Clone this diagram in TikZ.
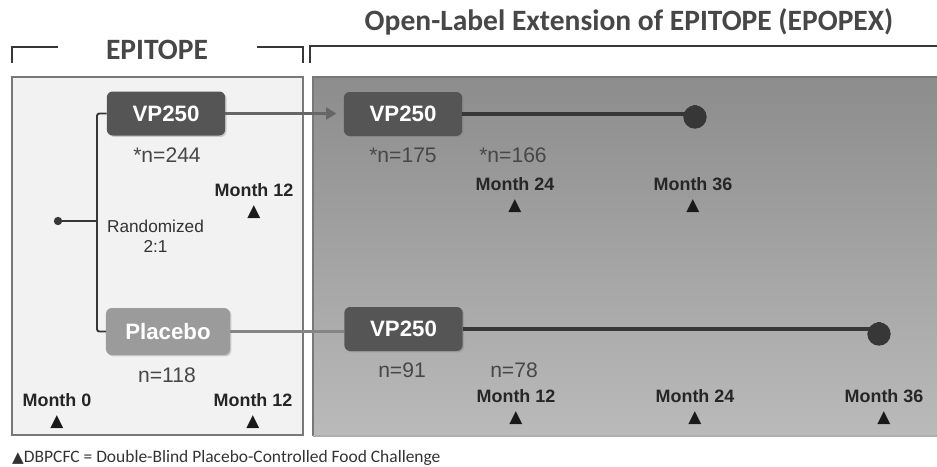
\documentclass[tikz,border=0pt]{standalone}
\usepackage{fontspec}
\setmainfont{Liberation Sans}
\newfontfamily\ttlfont{Carlito}
\newfontfamily\symfont{DejaVu Sans}
\usetikzlibrary{arrows.meta, positioning, shadows}
\definecolor{armdark}{RGB}{85, 85, 85}
\definecolor{armlight}{RGB}{155, 155, 155}
\definecolor{panelgray}{RGB}{242, 242, 242}
\definecolor{edgegray}{RGB}{120, 120, 120}
\definecolor{linedark}{RGB}{55, 55, 55}

\tikzset{
  armbox/.style={rounded corners=5pt, text=white, font=\fontsize{19}{19}\selectfont\bfseries,
    minimum width=3.55cm, minimum height=1.32cm,
    drop shadow={shadow xshift=1.2pt, shadow yshift=-1.2pt, opacity=0.35}},
  monthlbl/.style={font=\fontsize{15.3}{16}\selectfont\bfseries, text=black!85},
  tri/.style={font=\symfont\fontsize{14.5}{14.5}\selectfont, text=black!90},
  count/.style={font=\fontsize{18}{18}\selectfont, text=black!72},
  title/.style={font=\ttlfont\fontsize{25.2}{25}\selectfont\bfseries, text=black!72},
}

\begin{document}
\begin{tikzpicture}[x=0.03cm, y=-0.03cm]
  \useasboundingbox (0,0) rectangle (937,466);

  % Panels
  \draw[draw=edgegray, line width=1.5pt, fill=panelgray] (12,77) rectangle (303,435);
  \shade[top color=black!45, bottom color=black!27] (313,77) rectangle (945,436);
  \draw[draw=edgegray, line width=1.5pt] (313,436) -- (313,77) -- (945,77);
  \draw[draw=edgegray!60, line width=1.5pt] (313,436) -- (945,436);

  % Titles and brackets
  \node[title] (ttlopen) at (629,22) {Open-Label Extension of EPITOPE (EPOPEX)};
  \node[title] (ttlepi) at (157,50) {EPITOPE};
  \draw[linedark, line width=1.3pt] (12,63) |- (58,47);
  \draw[linedark, line width=1.3pt] (257,47) -| (303,63);
  \draw[linedark, line width=1.3pt] (310,63) |- (945,46);

  % Arms
  \node[armbox, fill=armdark] (vpa) at (166,113.5) {VP250};
  \node[armbox, fill=armlight, minimum width=3.72cm, minimum height=1.41cm] (plc) at (168,331.5) {Placebo};
  \node[armbox, fill=armdark] (vpb) at (403,114) {VP250};
  \node[armbox, fill=armdark] (vpc) at (403.5,329) {VP250};

  % Randomization
  \node[circle, fill=linedark, inner sep=0pt, minimum size=0.25cm] (start) at (58,221) {};
  \coordinate (fork) at (97,221);
  \draw[linedark, line width=1.6pt] (start) -- (fork);
  \draw[linedark, line width=1.6pt, rounded corners=2pt] (vpa.west) -| (fork) |- (plc.west);
  \node[font=\fontsize{14.7}{17}\selectfont, text=black!80, align=center] (rand) at (155.5,236) {Randomized\\2:1};

  % Connectors
  \node[circle, fill=linedark, inner sep=0pt, minimum size=0.7cm] (endb) at (695,117) {};
  \node[circle, fill=linedark, inner sep=0pt, minimum size=0.7cm] (endc) at (879,334) {};
  \draw[black!60, line width=2.6pt, shorten >=6pt, -{Triangle[length=9pt, width=10pt]}] (vpa.east) -- (vpa.east -| vpb.west);
  \draw[black!48, line width=2.6pt] (plc.east) -- (plc.east -| vpc.west);
  \draw[linedark, line width=2.6pt] (vpb.east) -- (vpb.east -| endb.center) -- (endb);
  \draw[linedark, line width=2.6pt] (vpc.east) -- (vpc.east -| endc.center) -- (endc);

  % Counts
  \node[count] (n244) at (167,155) {*n=244};
  \node[count] (n175) at (403,155) {*n=175};
  \node[count] (n166) at (513,155) {*n=166};
  \node[count] (n118) at (167,375) {n=118};
  \node[count] (n91) at (402,370) {n=91};
  \node[count] (n78) at (514,370) {n=78};

  % Month marks
  \foreach \x/\y/\t/\n in {254/190/Month 12/mla, 57/400/Month 0/mlb, 253/400/Month 12/mlc,
      515/184/Month 24/mra, 693/184/Month 36/mrb,
      516/396/Month 12/mrc, 695/396/Month 24/mrd, 884/396/Month 36/mre} {
    \node[monthlbl] (\n) at (\x,\y) {\t};
    \node[tri] (\n t) at (\x,\y+22) {▲};
  }

  % Footnote
  \node[anchor=west, inner sep=0pt, font=\ttlfont\fontsize{14.9}{15}\selectfont, text=black!80] (foot) at (12,458)
    {{\symfont\fontsize{13}{13}\selectfont ▲}DBPCFC = Double-Blind Placebo-Controlled Food Challenge};
\end{tikzpicture}
\end{document}
